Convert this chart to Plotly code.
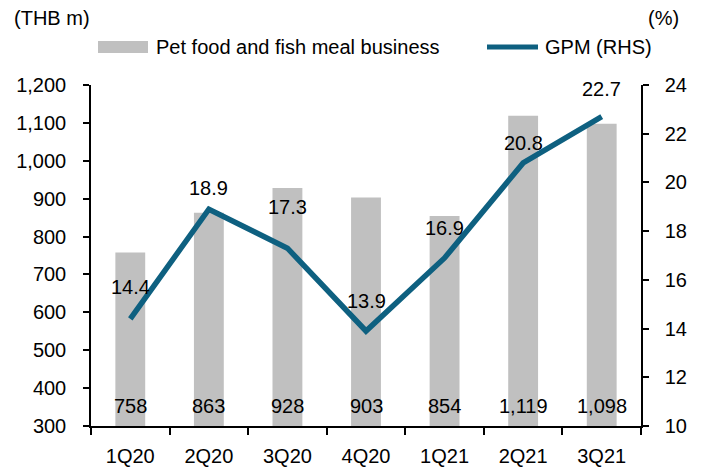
import plotly.graph_objects as go

categories = ["1Q20", "2Q20", "3Q20", "4Q20", "1Q21", "2Q21", "3Q21"]
revenue = [758, 863, 928, 903, 854, 1119, 1098]
gpm = [14.4, 18.9, 17.3, 13.9, 16.9, 20.8, 22.7]
gpm_label_shift = [32, 21, 41, 30, 30, 20, 28]
series_names = ["Pet food and fish meal business", "GPM (RHS)"]

FONT = "Liberation Sans, Arial, sans-serif"
BAR = "#C0C0C0"
LINE = "#0E6080"

# page body has an 8px margin; screen coordinates below
OFF = 8
FW, FH = 706 - OFF, 470 - OFF
L, R, T, B = 91, 641, 85, 426
W, H = R - L, B - T


def px(x):
    return (x - L) / W


def py(y):
    return (B - y) / H


fig = go.Figure()
fig.add_trace(go.Bar(
    x=categories, y=revenue, name=series_names[0],
    marker=dict(color=BAR, line=dict(width=0)), yaxis="y",
))
fig.add_trace(go.Scatter(
    x=categories, y=gpm, name=series_names[1], mode="lines",
    line=dict(color=LINE, width=5.5), yaxis="y2",
))

tf = dict(size=20, color="#000", family=FONT)
ann = []
for c, v in zip(categories, revenue):
    ann.append(dict(x=c, y=353, xref="x", yref="y", text=f"{v:,}", showarrow=False, font=tf))
for c, v, s in zip(categories, gpm, gpm_label_shift):
    ann.append(dict(x=c, y=v, xref="x", yref="y2", text=f"{v:.1f}", showarrow=False,
                    yshift=s, font=tf))
ann.append(dict(x=px(12), y=py(18), xref="paper", yref="paper", text="(THB m)", showarrow=False,
                xanchor="left", yanchor="middle", font=tf))
ann.append(dict(x=px(681), y=py(18), xref="paper", yref="paper", text="(%)", showarrow=False,
                xanchor="right", yanchor="middle", font=tf))
# legend (manual)
ann.append(dict(x=px(154), y=py(47), xref="paper", yref="paper", text=series_names[0],
                showarrow=False, xanchor="left", yanchor="middle", font=tf))
ann.append(dict(x=px(543), y=py(47), xref="paper", yref="paper", text=series_names[1],
                showarrow=False, xanchor="left", yanchor="middle", font=tf))

shapes = [
    dict(type="rect", xref="paper", yref="paper", x0=px(98), x1=px(148), y0=py(53), y1=py(41),
         fillcolor=BAR, line=dict(width=0)),
    dict(type="line", xref="paper", yref="paper", x0=px(487), x1=px(538), y0=py(47), y1=py(47),
         line=dict(color=LINE, width=5)),
]

fig.update_layout(
    width=FW, height=FH,
    margin=dict(l=L - OFF, r=706 - R, t=T - OFF, b=470 - B, autoexpand=False),
    paper_bgcolor="white", plot_bgcolor="white",
    font=dict(family=FONT, size=20, color="#000"),
    bargap=0.62,
    showlegend=False,
    xaxis=dict(type="category", showline=True, linecolor="#000", linewidth=1.5,
               ticks="outside", tickson="boundaries", ticklen=7, tickcolor="#000",
               tickwidth=1.5, showgrid=False, ticklabelstandoff=11,
               tickfont=dict(size=20)),
    yaxis=dict(range=[300, 1200], dtick=100, tickformat=",", showline=True,
               linecolor="#000", linewidth=1.5, ticks="outside", ticklen=6,
               tickcolor="#000", tickwidth=1.5, showgrid=False, zeroline=False,
               ticklabelstandoff=13, tickfont=dict(size=20)),
    yaxis2=dict(range=[10, 24], dtick=2, overlaying="y", side="right", showline=True,
                linecolor="#000", linewidth=1.5, ticks="outside", ticklen=6,
                tickcolor="#000", tickwidth=1.5, showgrid=False, zeroline=False,
                ticklabelstandoff=12, tickfont=dict(size=20)),
    annotations=ann,
    shapes=shapes,
)

fig.write_html("out.html")
